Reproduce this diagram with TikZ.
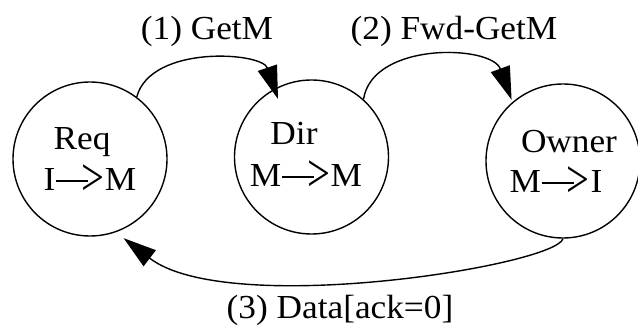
\documentclass[tikz,border=0pt]{standalone}
\usepackage{fontspec}
\usepackage{graphicx}
\setmainfont{Liberation Serif}[FakeStretch=1.05]
\usetikzlibrary{arrows.meta,calc}
% dash followed by a tall chevron, as used for state changes
\newcommand{\transarrow}{\kern0.02em\rule[0.27em]{0.95em}{0.05em}\kern-0.2em\raisebox{-0.13em}{\scalebox{1.15}[1.6]{>}}\kern0.02em}
\begin{document}
\begin{tikzpicture}[x=0.5pt,y=0.5pt,
  line width=0.7pt,
  every node/.style={font=\fontsize{16.8pt}{19pt}\selectfont, inner sep=0pt},
  statecircle/.style={draw, circle, minimum size=77pt},
  txt/.style={anchor=base},
  msg/.style={-{Triangle[length=16.5pt,width=10pt]}}]
\useasboundingbox (0,0) rectangle (638,327);

% the three controllers
\node[statecircle] (req) at (90,168) {};
\node[statecircle] (dir) at (311.5,170) {};
\node[statecircle] (own) at (563,166) {};

% names and state changes inside the circles
\node[txt] (reqname)  at (82,177)  {Req};
\node[txt] (reqtrans) at (90,136)  {I\transarrow M};
\node[txt] (dirname)  at (294,182) {Dir};
\node[txt] (dirtrans) at (306,140) {M\transarrow M};
\node[txt] (ownname)  at (569,174) {Owner};
\node[txt] (owntrans) at (556,134) {M\transarrow I};

% message labels
\node[txt] (lab1) at (207,287) {(1) GetM};
\node[txt] (lab2) at (454,287) {(2) Fwd-GetM};
\node[txt] (lab3) at (340,9)   {(3) Data[ack=0]};

% message arcs
\coordinate (tip1) at ($(dir.center)+(120:67)$);
\coordinate (tip2) at ($(own.center)+(130:80)$);
\coordinate (tip3) at ($(req.center)+(-67:86)$);
\draw[msg] (req.53) .. controls +(14,52.5) and +(-16,47) .. (tip1);
\draw[msg] (dir.48) .. controls +(9,58) and +(-20,55) .. (tip2);
\draw[msg] (own.south) .. controls +(-8,-27) and +(104,-80) .. (tip3);
\end{tikzpicture}
\end{document}
